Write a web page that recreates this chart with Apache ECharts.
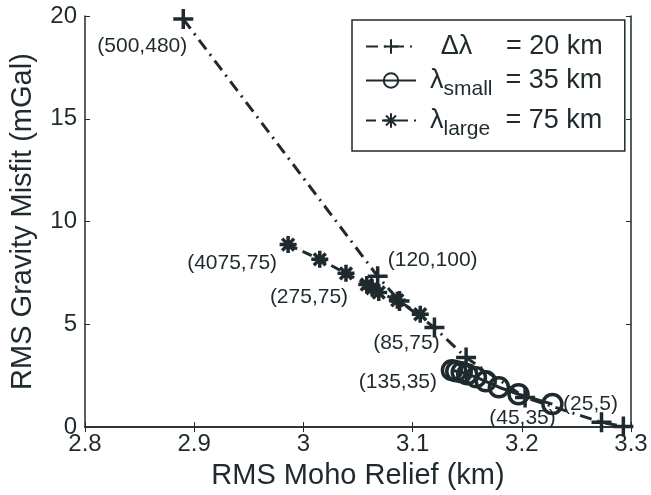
<!DOCTYPE html>
<html>
<head>
<meta charset="utf-8">
<script src="https://cdn.jsdelivr.net/npm/echarts@6/dist/echarts.min.js"></script>
<style>
html,body{margin:0;padding:0;background:#fff;}
#chart{width:651px;height:495px;}
</style>
</head>
<body>
<div id="chart"></div>
<script>
// delta lambda = 20 km
var dlX = [2.890, 3.068, 3.088, 3.120, 3.149, 3.203, 3.273, 3.293];
var dlY = [19.85, 7.34, 6.13, 4.84, 3.38, 1.44, 0.23, 0.03];
// lambda small = 35 km
var smX = [3.136, 3.140, 3.145, 3.150, 3.158, 3.167, 3.179, 3.197, 3.228];
var smY = [2.77, 2.72, 2.67, 2.57, 2.43, 2.23, 1.94, 1.60, 1.12];
// lambda large = 75 km
var lgX = [2.986, 3.015, 3.039, 3.058, 3.063, 3.069, 3.086, 3.107];
var lgY = [8.88, 8.16, 7.48, 6.94, 6.75, 6.55, 6.17, 5.49];

var xTicks = [2.8, 2.9, 3, 3.1, 3.2, 3.3];
var yTicks = [0, 5, 10, 15, 20];

// point labels: [series, index, text]
var pointLabels = [
  [0, 0, '(500,480)'],
  [0, 1, '(120,100)'],
  [2, 0, '(4075,75)'],
  [2, 2, '(275,75)'],
  [0, 3, '(85,75)'],
  [1, 0, '(135,35)'],
  [1, 7, '(45,35)'],
  [0, 6, '(25,5)']
];
var labelOffsets = [[-41, 27], [55, -16], [-56, 19], [-37, 24], [-28, 16], [-54, 12], [4, 24], [-11, -18]];

var ink = '#1f2a2e';
var font = 'Liberation Sans, Arial, Helvetica, sans-serif';

function makeData(xs, ys, s) {
  var out = [];
  for (var i = 0; i < xs.length; i++) {
    var item = { value: [xs[i], ys[i]] };
    for (var k = 0; k < pointLabels.length; k++) {
      if (pointLabels[k][0] == s && pointLabels[k][1] == i) {
        item.label = {
          show: true,
          formatter: pointLabels[k][2],
          position: 'inside',
          offset: labelOffsets[k],
          color: ink,
          fontSize: 21,
          fontFamily: font
        };
      }
    }
    out.push(item);
  }
  return out;
}

var plusPath = 'path://M5,0 L5,10 M0,5 L10,5';
var starPath = 'path://M5,0 L5,10 M0,5 L10,5 M1.5,1.5 L8.5,8.5 M8.5,1.5 L1.5,8.5';

var myChart = echarts.init(document.getElementById('chart'));
var option = {
  animation: false,
  backgroundColor: '#fff',
  grid: { left: 83, right: 20, top: 16, bottom: 67 },
  legend: {
    orient: 'vertical',
    left: 352,
    top: 20,
    padding: [13, 22, 11, 13],
    itemWidth: 50,
    itemHeight: 18,
    itemGap: 7,
    backgroundColor: '#fff',
    borderColor: ink,
    borderWidth: 1.5,
    borderRadius: 0,
    data: ['dl', 'sm', 'lg'],
    formatter: function (name) {
      if (name == 'dl') return '{d|Δλ}{e|= 20 km}';
      if (name == 'sm') return '{l|λ}{s|small}{e|= 35 km}';
      return '{l|λ}{s|large}{e|= 75 km}';
    },
    textStyle: {
      color: ink,
      fontFamily: font,
      fontSize: 27,
      rich: {
        d: { fontSize: 27, fontFamily: font, color: ink, width: 71, align: 'right', padding: [0, 14, 0, 0] },
        l: { fontSize: 27, fontFamily: font, color: ink, padding: [0, 0, 0, 9] },
        s: { fontSize: 21, fontFamily: font, color: ink, width: 62, padding: [18, 0, 0, 0] },
        e: { fontSize: 27, fontFamily: font, color: ink }
      }
    }
  },
  xAxis: [{
    type: 'value',
    min: 2.8,
    max: 3.3,
    interval: 0.1,
    name: 'RMS Moho Relief (km)',
    nameLocation: 'middle',
    nameGap: 33,
    nameTextStyle: { color: ink, fontSize: 29, fontFamily: font },
    axisLine: { lineStyle: { color: ink, width: 1.5 } },
    axisTick: { inside: true, length: 5, lineStyle: { color: ink } },
    axisLabel: {
      color: ink, fontSize: 24, fontFamily: font, margin: 5,
      formatter: function (v) {
        var t = Math.round(v * 10) / 10;
        return xTicks.indexOf(t) >= 0 ? String(t) : '';
      }
    },
    splitLine: { show: false }
  }, {
    type: 'value',
    position: 'top',
    min: 2.8,
    max: 3.3,
    interval: 0.1,
    axisLine: { lineStyle: { color: ink, width: 1.5 } },
    axisTick: { inside: true, length: 5, lineStyle: { color: ink } },
    axisLabel: { show: false },
    splitLine: { show: false }
  }],
  yAxis: [{
    type: 'value',
    min: 0,
    max: 20,
    interval: 5,
    name: 'RMS Gravity Misfit (mGal)',
    nameLocation: 'middle',
    nameGap: 48,
    nameTextStyle: { color: ink, fontSize: 29, fontFamily: font },
    axisLine: { show: true, lineStyle: { color: ink, width: 1.5 } },
    axisTick: { show: true, inside: true, length: 5, lineStyle: { color: ink } },
    axisLabel: {
      color: ink, fontSize: 24, fontFamily: font, margin: 8,
      formatter: function (v) { return yTicks.indexOf(v) >= 0 ? String(v) : ''; }
    },
    splitLine: { show: false }
  }, {
    type: 'value',
    position: 'right',
    min: 0,
    max: 20,
    interval: 5,
    axisLine: { show: true, lineStyle: { color: ink, width: 1.5 } },
    axisTick: { show: true, inside: true, length: 5, lineStyle: { color: ink } },
    axisLabel: { show: false },
    splitLine: { show: false }
  }],
  series: [
    {
      name: 'dl',
      type: 'line',
      data: makeData(dlX, dlY, 0),
      symbol: plusPath,
      symbolSize: 20,
      lineStyle: { color: ink, width: 3, type: [12, 6, 2, 6] },
      itemStyle: { color: 'transparent', borderColor: ink, borderWidth: 3.5 },
      z: 3
    },
    {
      name: 'sm',
      type: 'line',
      data: makeData(smX, smY, 1),
      symbol: 'circle',
      symbolSize: 19,
      lineStyle: { color: ink, width: 3, type: 'solid' },
      itemStyle: { color: 'transparent', borderColor: ink, borderWidth: 3.5 },
      z: 4
    },
    {
      name: 'lg',
      type: 'line',
      data: makeData(lgX, lgY, 2),
      symbol: starPath,
      symbolSize: 17,
      lineStyle: { color: ink, width: 3, type: [10, 6] },
      itemStyle: { color: 'transparent', borderColor: ink, borderWidth: 3.5 },
      z: 5
    }
  ]
};
myChart.setOption(option);
</script>
</body>
</html>
